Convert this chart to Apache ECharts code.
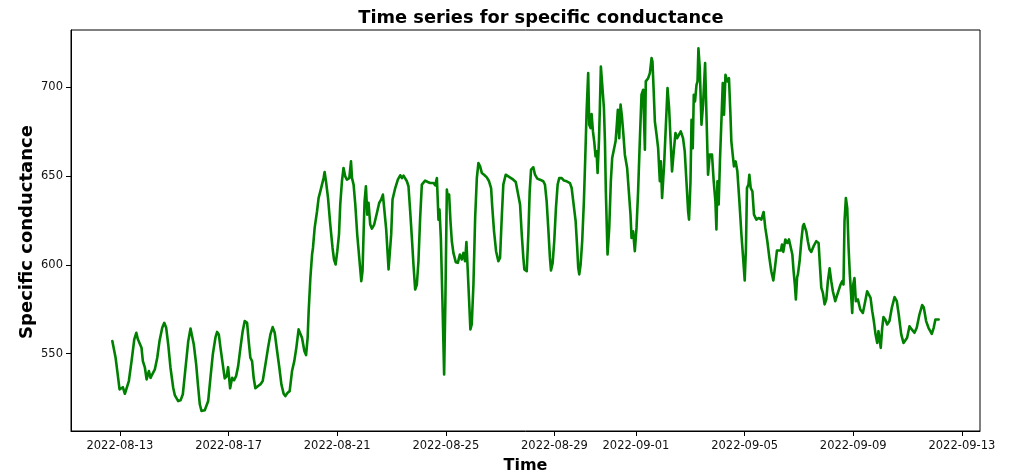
<!DOCTYPE html>
<html>
<head>
<meta charset="utf-8">
<script src="https://cdn.jsdelivr.net/npm/echarts@6/dist/echarts.min.js"></script>
<style>
  html, body { margin: 0; padding: 0; background: #fff; }
  #chart { width: 1015px; height: 475px; }
</style>
</head>
<body>
<div id="chart"></div>
<script>
// Time of each reading, in hours after 2022-08-12 00:00 (local time)
const hoursFromAug12 = [
  17.3,18.7,20.2,21.7,23.7,25.2,26.6,28.4,29.9,31.9,34.3,36.7,38.5,39.9,41.6,43.1,44.3,46.1,47.6,49.6,
  51.1,52.6,54.9,57.0,59.0,61.4,63.2,64.9,66.7,68.7,71.1,72.5,74.0,75.5,77.6,79.6,82.0,84.4,86.4,87.9,
  89.3,91.4,93.2,94.6,96.1,97.6,99.0,100.5,102.0,104.0,106.1,108.4,109.9,111.4,112.9,114.9,116.6,118.4,119.6,121.4,
  123.2,124.9,126.7,128.5,130.5,132.5,134.3,
  136.4,137.8,139.3,140.8,142.2,143.7,146.1,148.1,150.2,152.6,
  154.9,157.0,159.0,160.8,162.9,164.9,166.7,168.7,170.2,172.2,
  174.0,176.1,178.1,179.9,181.9,183.4,184.9,187.0,188.5,189.9,
  190.8,192.3,193.8,194.6,196.1,198.2,199.6,201.1,202.6,204.0,
  204.9,206.1,207.9,209.9,211.9,213.2,214.6,216.1,217.6,218.7,
  220.2,221.6,223.1,224.6,226.7,228.2,229.1,230.5,232.0,233.7,
  235.5,237.3,238.4,239.3,240.2,241.4,242.6,243.7,245.2,246.7,
  248.7,251.1,253.1,254.9,256.4,
  257.1,259.3,261.4,262.9,263.7,264.9,265.8,267.3,269.6,271.7,
  273.2,274.6,276.1,277.6,279.0,280.5,282.0,283.4,284.9,286.4,
  287.8,289.3,290.8,292.2,293.7,296.1,298.1,299.6,301.1,302.6,
  304.1,304.9,305.5,306.4,307.6,309.0,310.5,311.6,312.9,313.8,
  314.9,316.1,317.3,318.7,320.8,322.6,324.4,326.1,327.5,329.0,
  330.2,331.4,332.6,333.7,334.9,336.4,337.9,339.4,340.8,342.3,
  343.8,345.8,348.2,350.2,352.0,353.1,354.6,356.4,358.4,359.9,
  361.4,362.8,364.9,367.2,369.6,371.6,373.8,375.5,377.6,379.1,
  380.5,381.4,
  383.5,384.9,386.1,387.3,389.3,390.8,392.8,395.2,398.1,399.6,
  401.1,402.5,404.0,404.9,406.4,407.8,409.3,410.8,412.2,414.4,
  416.4,418.8,421.7,423.2,424.6,426.7,428.1,429.0,429.9,431.1,
  432.5,434.0,435.2,436.4,437.8,438.7,439.9,440.8,442.0,443.1,
  444.3,445.2,446.1,447.3,448.1,449.0,450.2,451.7,452.6,453.4,
  454.9,456.4,457.8,459.0,460.5,462.0,463.1,464.0,465.2,466.4,
  467.6,468.7,470.2,472.2,473.7,475.2,476.1,477.5,479.0,480.5,
  481.9,483.4,484.9,486.4,487.9,488.7,490.8,492.3,493.8,494.6,
  495.8,496.7,498.2,499.6,501.1,502.0,503.1,504.9,
  506.4,507.9,509.3,510.8,511.9,513.4,514.9,516.4,517.8,519.6,
  521.6,523.1,524.6,526.1,526.9,528.2,529.1,530.2,531.1,532.2,
  533.5,534.4,535.2,536.4,537.9,539.3,541.1,542.3,543.7,545.2,
  547.2,548.7,550.2,551.1,552.0,553.1,554.3,555.5,556.7,557.8,
  559.1,560.8,562.2,563.5,564.3,565.5,566.6,568.1,569.6,571.4,
  573.2,574.9,576.1,577.2,578.1,579.4,580.2,581.4,582.9,584.3,
  586.4,588.4,590.8,592.8,594.3,596.1,597.9,599.6,601.4,602.8,
  604.6,606.3,608.1,609.0,610.2,612.0,613.8,615.2,616.7,618.2,
  619.3,620.4,621.3,622.4,623.1,624.6,626.1,627.5,628.4,
  630.5,631.9,633.4,634.9,637.0,639.3,641.4,642.5,643.8,645.2,
  646.7,648.2,649.6,651.1,652.6,654.0,656.1,658.4,660.8,662.3,
  663.4,664.3,665.5,666.7,667.9,669.0,670.2,671.1,672.0,673.1,
  674.3,676.1,678.2,680.5,682.6,684.3,685.8,687.3,688.8,690.2,
  691.7,693.2,694.3,695.5,696.3,697.6,698.7,700.3,702.0,704.0,
  706.1,708.5,710.5,712.2,714.4,716.4,718.1,719.6,721.7,723.7,
  726.1,728.1,730.5,732.9,734.3,736.4,738.5,739.9,741.4,743.1,
  744.6,746.1,747.5
];

// Specific conductance readings
const conductance = [
  557.0,556.6,547.6,540.1,529.8,528.8,531.0,527.3,527.9,534.5,545.7,558.0,561.7,558.0,558.5,553.2,545.7,542.0,535.4,540.1,
  536.3,538.3,541.1,547.6,557.0,564.5,567.3,564.5,555.1,542.0,530.7,526.6,526.0,523.2,523.6,527.0,542.0,557.0,564.1,563.6,
  555.1,543.9,530.7,521.4,517.6,516.6,518.0,518.0,523.2,536.3,549.5,558.9,562.2,560.8,553.2,543.9,536.0,537.3,542.3,530.4,
  536.3,534.9,537.3,542.9,553.2,562.6,568.3,
  567.3,557.0,547.6,545.7,536.3,530.4,531.7,532.6,534.5,543.9,
  553.2,560.8,564.9,561.7,551.4,542.0,532.6,527.3,526.0,527.9,
  528.8,540.1,545.7,553.2,563.6,564.5,558.9,551.4,549.1,558.9,
  573.9,592.6,605.8,609.5,620.8,630.2,637.7,641.4,642.4,648.9,
  652.3,647.1,637.7,622.7,609.5,603.0,600.2,607.7,617.1,634.0,
  647.1,654.6,649.9,648.0,648.9,658.3,648.9,645.2,634.0,617.1,
  603.9,590.8,596.4,617.1,635.8,644.3,628.3,634.9,622.7,620.4,
  622.7,629.2,634.9,636.8,639.6,
  639.0,620.0,597.4,596.4,617.0,636.8,636.2,643.3,648.0,650.5,
  648.9,650.3,649.3,647.1,644.3,630.2,615.2,600.2,586.1,588.9,
  602.0,626.4,645.2,646.1,647.5,646.7,646.1,645.2,646.1,644.8,
  648.9,635.8,625.5,631.1,615.2,579.5,538.2,579.5,642.4,637.7,
  639.6,624.6,613.3,606.7,601.5,601.1,605.8,603.0,606.7,602.0,
  612.9,596.4,579.5,563.6,566.4,588.9,626.4,648.9,657.4,655.5,
  651.8,650.8,649.3,647.1,643.3,632.0,618.9,607.7,602.0,603.9,
  626.4,645.2,650.8,649.9,648.9,648.0,646.7,645.6,634.0,617.1,
  603.9,597.4,
  596.4,617.1,641.4,653.7,655.0,650.8,648.6,648.0,647.1,645.2,
  635.8,620.8,603.9,596.8,601.1,613.3,632.0,645.2,648.9,648.9,
  647.5,647.1,646.1,643.3,635.8,624.6,609.5,598.3,594.6,600.2,
  613.3,635.8,660.2,686.5,708.1,679.0,677.1,685.0,675.2,669.6,
  661.2,664.0,651.8,669.6,688.3,711.8,701.5,688.3,669.6,641.4,
  605.8,620.8,647.1,660.2,660.2,669.6,679.0,687.4,671.4,690.3,
  683.7,675.2,662.1,654.6,641.4,628.3,615.2,618.9,607.7,620.8,
  641.4,669.6,695.9,698.7,664.9,703.4,705.2,708.1,716.5,714.6,
  695.9,680.9,673.4,665.8,647.1,658.3,637.7,656.5,
  656.5,699.6,688.3,667.7,652.7,664.0,674.3,671.4,672.4,675.2,
  671.4,664.0,647.1,630.2,625.5,647.1,681.8,665.8,695.9,692.1,
  701.5,703.4,722.1,710.9,679.0,690.3,713.7,684.6,650.8,662.1,
  662.1,647.1,635.8,619.9,647.1,634.0,660.2,680.9,702.4,684.6,
  707.1,703.4,705.2,684.6,669.6,662.1,655.5,658.3,652.7,635.8,
  617.1,602.0,591.2,609.5,643.3,645.2,650.8,643.3,641.4,628.3,
  625.5,626.4,625.5,629.8,620.8,613.3,603.9,596.4,591.2,598.3,
  608.1,608.6,608.1,611.4,607.3,614.3,612.3,614.3,613.7,605.8,
  596.4,588.9,580.5,593.0,594.6,602.0,613.3,621.7,623.0,
  618.9,613.3,608.6,607.3,610.5,613.3,612.3,600.2,587.0,584.2,
  577.7,580.5,590.8,598.0,590.8,585.1,579.5,584.2,588.9,590.8,
  588.9,624.6,637.7,632.0,609.5,594.6,595.5,572.9,588.9,592.6,
  579.5,580.5,574.8,572.9,579.5,585.1,586.1,581.4,573.9,568.3,
  560.8,556.0,562.6,557.0,553.2,564.5,570.5,569.2,566.4,568.3,
  575.8,581.8,579.5,572.0,560.8,556.0,555.1,558.9,565.4,563.6,
  561.7,564.5,572.0,577.3,576.1,568.3,564.5,564.9,561.1,564.5,
  569.2,570.1,569.2
];

// Tick labels
const xTickLabels = ['2022-08-13','2022-08-17','2022-08-21','2022-08-25','2022-08-29',
                     '2022-09-01','2022-09-05','2022-09-09','2022-09-13'];
const yTickLabels = [550, 600, 650, 700];

const FONT = 'DejaVu Sans';
const start = new Date(2022, 7, 12, 0, 0, 0).getTime();
const n = Math.min(hoursFromAug12.length, conductance.length);
const seriesData = [];
for (let i = 0; i < n; i++) {
  seriesData.push([start + hoursFromAug12[i] * 3600000, conductance[i]]);
}

function parseDay(s) {
  const p = s.split('-').map(Number);
  return new Date(p[0], p[1] - 1, p[2]).getTime();
}
function fmtDay(v) {
  const d = new Date(v);
  const mm = String(d.getMonth() + 1).padStart(2, '0');
  const dd = String(d.getDate()).padStart(2, '0');
  return d.getFullYear() + '-' + mm + '-' + dd;
}
const xTicks = xTickLabels.map(parseDay);

// matplotlib-style 5% margins
const ts = seriesData.map(d => d[0]);
const vs = seriesData.map(d => d[1]);
const tMin = Math.min(...ts), tMax = Math.max(...ts);
const vMin = Math.min(...vs), vMax = Math.max(...vs);
const tPad = (tMax - tMin) * 0.05, vPad = (vMax - vMin) * 0.05;

const chart = echarts.init(document.getElementById('chart'), null, { renderer: 'canvas' });
chart.setOption({
  animation: false,
  backgroundColor: '#ffffff',
  title: {
    text: 'Time series for specific conductance',
    left: 536,
    textAlign: 'center',
    top: 4,
    textStyle: { fontFamily: FONT, fontWeight: 'bold', fontSize: 17.8, color: '#000' }
  },
  graphic: [{
    type: 'text',
    x: 27,
    y: 232,
    rotation: Math.PI / 2,
    silent: true,
    style: {
      text: 'Specific conductance',
      fill: '#000',
      fontFamily: FONT,
      fontSize: 18,
      fontWeight: 'bold',
      align: 'center',
      verticalAlign: 'middle'
    }
  }],
  grid: {
    left: 71, right: 35, top: 30, bottom: 44,
    containLabel: false,
    outerBoundsMode: 'none',
    show: true, borderColor: '#000', borderWidth: 1, backgroundColor: 'transparent'
  },
  xAxis: {
    type: 'value',
    scale: true,
    min: tMin - tPad,
    max: tMax + tPad,
    name: 'Time',
    nameLocation: 'middle',
    nameGap: 27,
    nameTextStyle: { fontFamily: FONT, fontWeight: 'bold', fontSize: 16, color: '#000' },
    axisLine: { show: true, onZero: false, lineStyle: { color: '#000', width: 1 } },
    axisTick: { show: true, length: 5, lineStyle: { color: '#000' }, customValues: xTicks },
    axisLabel: {
      customValues: xTicks,
      formatter: v => fmtDay(v),
      fontFamily: FONT, fontSize: 11.5, color: '#111', margin: 9,
      hideOverlap: false
    },
    splitLine: { show: false }
  },
  yAxis: {
    type: 'value',
    scale: true,
    min: vMin - vPad,
    max: vMax + vPad,
    axisLine: { show: true, onZero: false, lineStyle: { color: '#000', width: 1 } },
    axisTick: { show: true, length: 5, lineStyle: { color: '#000' }, customValues: yTickLabels },
    axisLabel: {
      customValues: yTickLabels,
      formatter: v => String(v),
      fontFamily: FONT, fontSize: 11.5, color: '#111', margin: 8
    },
    splitLine: { show: false }
  },
  series: [{
    type: 'line',
    data: seriesData,
    showSymbol: false,
    smooth: false,
    lineStyle: { color: '#008000', width: 2.6, join: 'round', cap: 'round' },
    itemStyle: { color: '#008000' }
  }]
});
</script>
</body>
</html>
